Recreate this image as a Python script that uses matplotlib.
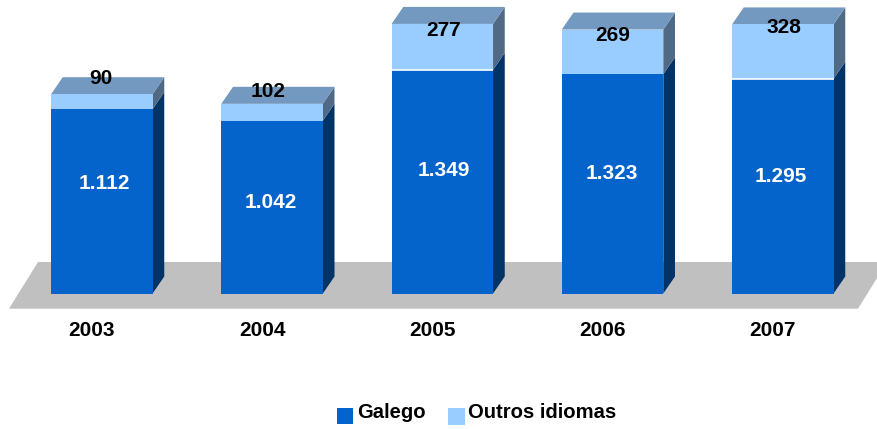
import matplotlib
matplotlib.use("Agg")
import matplotlib.pyplot as plt
from matplotlib.patches import Polygon, Rectangle

plt.rcParams['font.family'] = ['Liberation Sans', 'DejaVu Sans']

# --- Data ---
years = ["2003", "2004", "2005", "2006", "2007"]
galego = [1112, 1042, 1349, 1323, 1295]
outros = [90, 102, 277, 269, 328]
galego_labels = ["1.112", "1.042", "1.349", "1.323", "1.295"]
outros_labels = ["90", "102", "277", "269", "328"]

blue = "#0563CC"
light = "#99CCFF"
side = "#003366"
top = "#7399C0"
side_light = "#506A85"

# hand placed label offsets from the segment centre, in pixels
galego_off = [(3, 17.5), (-1, 5), (2, 11.5), (-1, 10), (-2, 10)]
outros_off = [(-1, 23), (-4, 21), (1, 16), (0, 16), (1, 24)]
white_line = [2, 4]  # bars with a thin white line between the segments

W, H = 878, 429
fig = plt.figure(figsize=(W / 100, H / 100), dpi=100)
ax = fig.add_axes([0, 0, 1, 1])

# full figure axes: px per category and px per unit
px_x = 170.25
px_y = 0.1658
x0 = 101.8
y0 = H - 293.5
ax.set_xlim(-x0 / px_x, (W - x0) / px_x)
ax.set_ylim(-y0 / px_y, (H - y0) / px_y)
ax.axis("off")


def xpx(p):
    return (p - x0) / px_x


def ypx(p):
    return (H - p - y0) / px_y


bw = 101.5 / px_x
dx = 11.7 / px_x
dy = 17 / px_y
xs = list(range(len(years)))

# floor
ax.add_patch(Polygon([(xpx(9), ypx(308.7)), (xpx(858), ypx(308.7)),
                      (xpx(887), ypx(262)), (xpx(38), ypx(262))],
                     closed=True, fc="#C0C0C0", ec="none", zorder=1))

for i in xs:
    g, o = galego[i], outros[i]
    l, r = i - bw / 2, i + bw / 2
    # side faces
    ax.add_patch(Polygon([(r, 0), (r + dx, dy), (r + dx, g + dy), (r, g)],
                         closed=True, fc=side, ec="none", zorder=2))
    ax.add_patch(Polygon([(r, g), (r + dx, g + dy), (r + dx, g + o + dy), (r, g + o)],
                         closed=True, fc=side_light, ec="none", zorder=2))
    # top face
    ax.add_patch(Polygon([(l, g + o), (r, g + o), (r + dx, g + o + dy), (l + dx, g + o + dy)],
                         closed=True, fc=top, ec="none", zorder=2))

ax.bar(xs, galego, width=bw, color=blue, zorder=3)
ax.bar(xs, outros, width=bw, bottom=galego, color=light, zorder=3)

for i in white_line:
    ax.plot([i - bw / 2, i + bw / 2], [galego[i], galego[i]], color="white", lw=1.2,
            solid_capstyle="butt", zorder=4)

for i in xs:
    ax.text(i + galego_off[i][0] / px_x, galego[i] / 2 + galego_off[i][1] / px_y,
            galego_labels[i], color="white", fontsize=15, fontweight="bold",
            ha="center", va="center", zorder=5)
    ax.text(i + outros_off[i][0] / px_x, galego[i] + outros[i] / 2 + outros_off[i][1] / px_y,
            outros_labels[i], color="black", fontsize=15, fontweight="bold",
            ha="center", va="center", zorder=5)
    ax.text(i - 10 / px_x, ypx(331), years[i], color="black",
            fontsize=15, fontweight="bold", ha="center", va="center", zorder=5)

# legend
ax.add_patch(Rectangle((xpx(337), ypx(424)), 16 / px_x, 16 / px_y,
                       fc=blue, ec="none", zorder=4))
ax.add_patch(Rectangle((xpx(448), ypx(424.5)), 17 / px_x, 16.5 / px_y,
                       fc=light, ec="none", zorder=4))
ax.text(xpx(357), ypx(412), "Galego", fontsize=14.6, fontweight="bold",
        ha="left", va="center")
ax.text(xpx(468), ypx(412), "Outros idiomas", fontsize=14.6, fontweight="bold",
        ha="left", va="center")

fig.savefig("out.png", dpi=100)
